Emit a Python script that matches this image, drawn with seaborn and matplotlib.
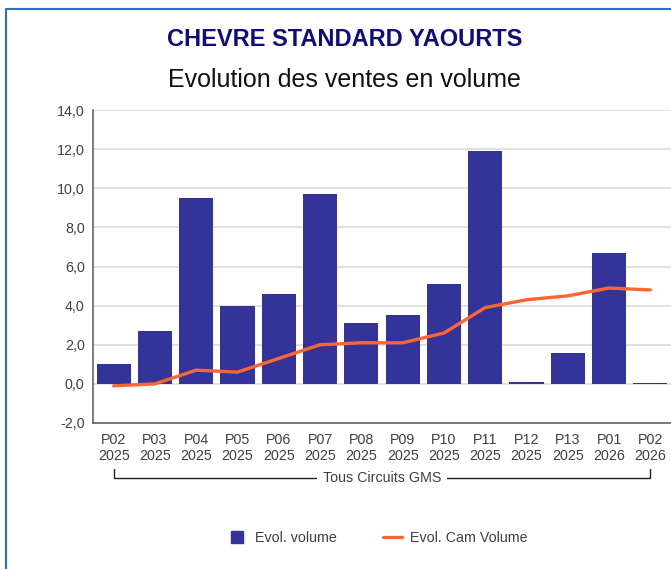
import matplotlib
matplotlib.use("Agg")
import matplotlib.pyplot as plt
import seaborn as sns
from matplotlib.lines import Line2D
from matplotlib.ticker import FuncFormatter, MultipleLocator
from matplotlib.transforms import blended_transform_factory

# ==================================
# DATA
# ==================================

periods = ["P02", "P03", "P04", "P05", "P06", "P07", "P08",
           "P09", "P10", "P11", "P12", "P13", "P01", "P02"]
years = ["2025", "2025", "2025", "2025", "2025", "2025", "2025",
         "2025", "2025", "2025", "2025", "2025", "2026", "2026"]
evol_volume = [1.0, 2.7, 9.5, 4.0, 4.6, 9.7, 3.1,
               3.5, 5.1, 11.9, 0.1, 1.6, 6.7, 0.05]
evol_cam = [-0.1, 0.0, 0.7, 0.6, 1.3, 2.0, 2.1,
            2.1, 2.6, 3.9, 4.3, 4.5, 4.9, 4.8]

labels = [f"{p}\n{y}" for p, y in zip(periods, years)]

BAR_COLOR = "#333399"
LINE_COLOR = "#ff6633"
TEXT_COLOR = "#404040"

# ==================================
# FIGURE
# ==================================

sns.set_style("white")
plt.rcParams["font.family"] = ["Liberation Sans", "DejaVu Sans"]

fig = plt.figure(figsize=(6.71, 5.69), dpi=100)
ax = fig.add_axes([93 / 671, 1 - 423 / 569, 578 / 671, 313 / 569])

sns.barplot(x=labels, y=evol_volume, color=BAR_COLOR, width=0.83,
            saturation=1, linewidth=0, ax=ax, zorder=2)
sns.lineplot(x=labels, y=evol_cam, sort=False, color=LINE_COLOR,
             linewidth=2.4, ax=ax, zorder=3)

ax.set_xlim(-0.5, len(labels) - 0.5)
ax.set_ylim(-2, 14)
ax.yaxis.set_major_locator(MultipleLocator(2))
ax.yaxis.set_major_formatter(FuncFormatter(lambda v, _: f"{v:.1f}".replace(".", ",")))
ax.grid(axis="y", color="#d9d9d9", linewidth=1.1, zorder=0)
ax.set_axisbelow(True)

for side in ["top", "right"]:
    ax.spines[side].set_visible(False)
for side in ["left", "bottom"]:
    ax.spines[side].set_color("#595959")
    ax.spines[side].set_linewidth(1.1)

ax.tick_params(axis="y", length=0, pad=6, labelsize=10.3, labelcolor=TEXT_COLOR)
ax.tick_params(axis="x", length=0, pad=7, labelsize=10.3, labelcolor=TEXT_COLOR)
for t in ax.get_xticklabels():
    t.set_linespacing(1.25)

# bracket under the category labels
tr = blended_transform_factory(ax.transData, fig.transFigure)
y_line = 1 - 478 / 569
y_top = 1 - 469 / 569
x0, x1 = 0, len(labels) - 1
fig.add_artist(Line2D([x0, x0, x1, x1], [y_top, y_line, y_line, y_top],
                      transform=tr, color="#222222", linewidth=1))
fig.text(x0 + (x1 - x0) / 2, y_line, "Tous Circuits GMS", transform=tr,
         ha="center", va="center", fontsize=10.3, color=TEXT_COLOR,
         bbox=dict(facecolor="white", edgecolor="none", pad=4))

# titles
fig.text(0.514, 1 - 46 / 569, "CHEVRE STANDARD YAOURTS", ha="center",
         va="baseline", fontsize=17, fontweight="bold", color="#0d0d80")
fig.text(0.514, 1 - 87 / 569, "Evolution des ventes en volume", ha="center",
         va="baseline", fontsize=18, color="#111111")

# legend
handles = [
    Line2D([], [], marker="s", linestyle="none", markersize=9,
           color=BAR_COLOR, label="Evol. volume"),
    Line2D([], [], color=LINE_COLOR, linewidth=2.4, label="Evol. Cam Volume"),
]
fig.legend(handles=handles, loc="center", bbox_to_anchor=(378 / 671, 1 - 538 / 569),
           ncol=2, frameon=False, fontsize=10.3, handlelength=1.3,
           columnspacing=3.2, handletextpad=0.6, labelcolor=TEXT_COLOR)

# outer frame (top and left edges visible)
bx = 6 / 671
by = 1 - 9 / 569
fig.add_artist(Line2D([bx, bx, 1.0], [0, by, by], transform=fig.transFigure,
                      color="#2e6fbf", linewidth=1.5))

fig.savefig("out.png", dpi=100)
